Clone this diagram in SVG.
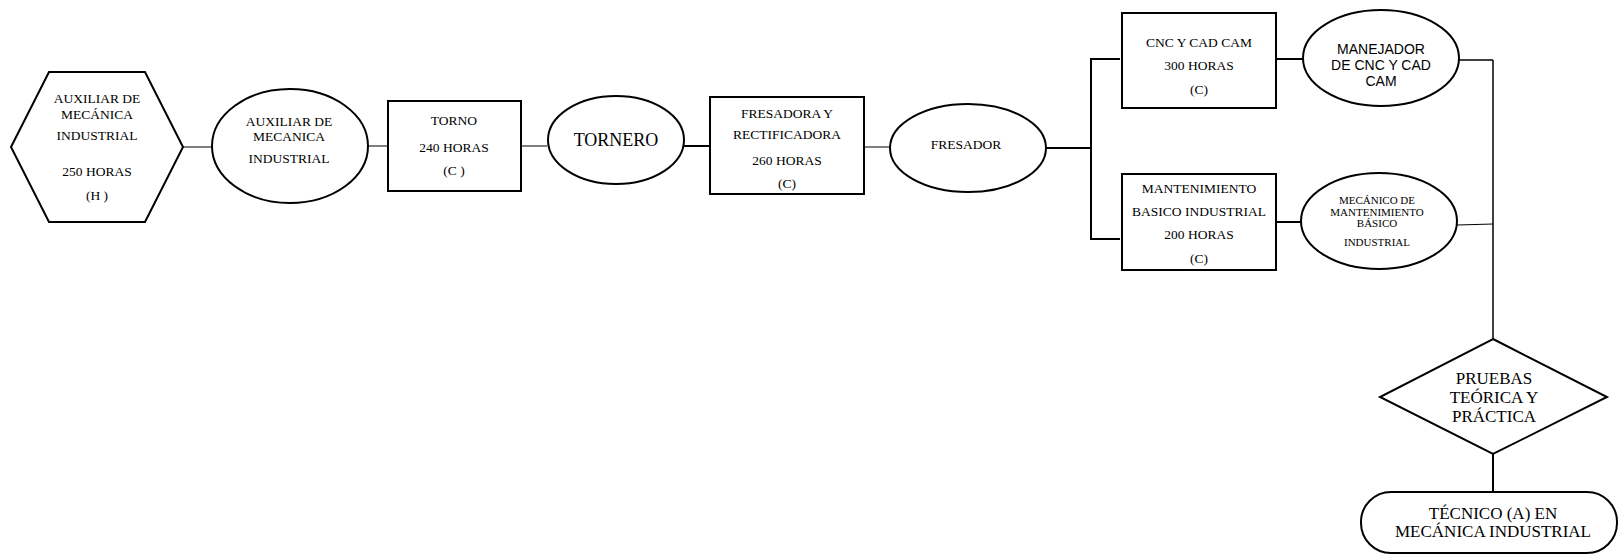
<svg xmlns="http://www.w3.org/2000/svg" width="1619" height="556" viewBox="0 0 1619 556">
<style>
.s{fill:#fff;stroke:#000;stroke-width:2}
.t{font-family:"Liberation Serif","Times New Roman",serif;font-size:13.5px;fill:#000;text-anchor:middle;dominant-baseline:central}
.a{font-family:"Liberation Sans",Arial,sans-serif;font-size:14px;fill:#000;text-anchor:middle;dominant-baseline:central}
.c{fill:none;stroke:#000}
</style>
<rect width="1619" height="556" fill="#fff"/>
<g id="connectors">
<line class="c" x1="183" y1="147" x2="212" y2="147" stroke-width="1"/>
<line class="c" x1="368" y1="146" x2="388" y2="146" stroke-width="1"/>
<line class="c" x1="521" y1="146" x2="547" y2="146" stroke-width="1"/>
<line class="c" x1="684" y1="146" x2="710" y2="146" stroke-width="2"/>
<line class="c" x1="864" y1="147" x2="890" y2="147" stroke-width="1"/>
<line class="c" x1="1046" y1="148" x2="1091" y2="148" stroke-width="2"/>
<line class="c" x1="1091" y1="59" x2="1091" y2="239" stroke-width="2"/>
<line class="c" x1="1090" y1="59" x2="1120" y2="59" stroke-width="2"/>
<line class="c" x1="1090" y1="239" x2="1120" y2="239" stroke-width="2"/>
<line class="c" x1="1276" y1="59" x2="1303" y2="59" stroke-width="2"/>
<line class="c" x1="1276" y1="222" x2="1302" y2="222" stroke-width="2"/>
<line class="c" x1="1459" y1="60" x2="1493" y2="60" stroke-width="1.5"/>
<line class="c" x1="1457" y1="225" x2="1493" y2="224" stroke-width="1"/>
<line class="c" x1="1493" y1="60" x2="1493" y2="339" stroke-width="1.5"/>
<line class="c" x1="1493" y1="454" x2="1493" y2="492" stroke-width="2"/>
</g>
<g id="hex">
<polygon class="s" points="11,147 49,72 145,72 183,147 145,222 49,222"/>
<text class="t" x="97" y="98">AUXILIAR DE</text>
<text class="t" x="97" y="114">MECÁNICA</text>
<text class="t" x="97" y="135">INDUSTRIAL</text>
<text class="t" x="97" y="171">250 HORAS</text>
<text class="t" x="97" y="195">(H )</text>
</g>
<g id="aux">
<ellipse class="s" cx="290" cy="146" rx="78" ry="57"/>
<text class="t" x="289" y="121">AUXILIAR DE</text>
<text class="t" x="289" y="136">MECANICA</text>
<text class="t" x="289" y="158">INDUSTRIAL</text>
</g>
<g id="torno">
<rect class="s" x="388" y="101" width="133" height="90"/>
<text class="t" x="454" y="120">TORNO</text>
<text class="t" x="454" y="147">240 HORAS</text>
<text class="t" x="454" y="170">(C )</text>
</g>
<g id="tornero">
<ellipse class="s" cx="616" cy="140" rx="68" ry="44"/>
<text class="t" x="616" y="140" style="font-size:18px">TORNERO</text>
</g>
<g id="fresadora">
<rect class="s" x="710" y="97" width="154" height="97"/>
<text class="t" x="787" y="113">FRESADORA Y</text>
<text class="t" x="787" y="134">RECTIFICADORA</text>
<text class="t" x="787" y="160">260 HORAS</text>
<text class="t" x="787" y="183">(C)</text>
</g>
<g id="fresador">
<ellipse class="s" cx="968" cy="148" rx="78" ry="44"/>
<text class="t" x="966" y="144">FRESADOR</text>
</g>
<g id="cnc">
<rect class="s" x="1122" y="13" width="154" height="95"/>
<text class="t" x="1199" y="42">CNC Y CAD CAM</text>
<text class="t" x="1199" y="65">300 HORAS</text>
<text class="t" x="1199" y="89">(C)</text>
</g>
<g id="mant">
<rect class="s" x="1122" y="174" width="154" height="96"/>
<text class="t" x="1199" y="188">MANTENIMIENTO</text>
<text class="t" x="1199" y="211">BASICO INDUSTRIAL</text>
<text class="t" x="1199" y="234">200 HORAS</text>
<text class="t" x="1199" y="258">(C)</text>
</g>
<g id="manejador">
<ellipse class="s" cx="1381" cy="58" rx="78" ry="48"/>
<text class="a" x="1381" y="49">MANEJADOR</text>
<text class="a" x="1381" y="65">DE CNC Y CAD</text>
<text class="a" x="1381" y="81">CAM</text>
</g>
<g id="mecanico">
<ellipse class="s" cx="1379" cy="221" rx="78" ry="48"/>
<text class="t" x="1377" y="200" style="font-size:11px">MECÁNICO DE</text>
<text class="t" x="1377" y="212" style="font-size:11px">MANTENIMIENTO</text>
<text class="t" x="1377" y="223" style="font-size:11px">BÁSICO</text>
<text class="t" x="1377" y="242" style="font-size:11px">INDUSTRIAL</text>
</g>
<g id="pruebas">
<polygon class="s" points="1493,339 1607,397 1493,454 1380,397"/>
<text class="t" x="1494" y="378" style="font-size:17px">PRUEBAS</text>
<text class="t" x="1494" y="397" style="font-size:17px">TEÓRICA Y</text>
<text class="t" x="1494" y="416" style="font-size:17px">PRÁCTICA</text>
</g>
<g id="tecnico">
<rect class="s" x="1361" y="492" width="256" height="61" rx="30" ry="30"/>
<text class="t" x="1493" y="513" style="font-size:17px">TÉCNICO (A) EN</text>
<text class="t" x="1493" y="531" style="font-size:17px">MECÁNICA INDUSTRIAL</text>
</g>
</svg>
